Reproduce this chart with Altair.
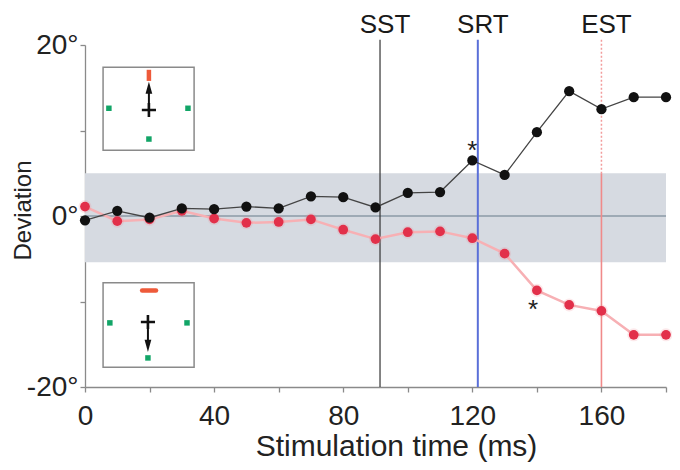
import altair as alt
import pandas as pd

# ---------------- data ----------------
times = [0, 10, 20, 30, 40, 50, 60, 70, 80, 90, 100, 110, 120, 130, 140, 150, 160, 170, 180]
black_dev = [-0.5, 0.6, -0.2, 0.9, 0.8, 1.1, 0.9, 2.3, 2.2, 1.0, 2.7, 2.8, 6.5, 4.8, 9.8, 14.6, 12.5, 13.9, 13.9]
red_dev = [1.1, -0.6, -0.4, 0.6, -0.3, -0.8, -0.7, -0.4, -1.6, -2.7, -1.9, -1.8, -2.6, -4.4, -8.7, -10.4, -11.1, -13.9, -13.9]

band_lo = [-5.4]
band_hi = [5.0]

event_names = ["SST", "SRT", "EST"]
event_times = [91.4, 121.7, 160.0]
event_top = 20.6
event_label_y = 21.45

star_t = [120.0, 138.8]
star_y = [6.7, -11.9]

# inset schematics (in chart data units)
box_x0 = [5.6, 5.6]
box_x1 = [33.8, 33.8]
box_y0 = [7.7, -17.7]
box_y1 = [17.4, -7.8]
target_t = [7.4, 31.9, 19.8, 7.7, 31.6, 19.5]
target_y = [12.6, 12.6, 9.0, -12.5, -12.5, -16.6]
cross_t = [19.8, 19.5]
cross_y = [12.4, -12.4]
shaft_t = [19.8, 19.5]
shaft_y0 = [12.4, -12.4]
shaft_y1 = [14.5, -14.5]
head_t = [19.8, 19.5]
head_y = [15.0, -15.2]
vbar_t = [19.8]
vbar_y0 = [15.8]
vbar_y1 = [17.1]
hbar_t0 = [17.7]
hbar_t1 = [22.0]
hbar_y = [-8.7]

FONT = "Liberation Sans"
xs = alt.Scale(domain=[0, 180], nice=False, zero=False)
ys = alt.Scale(domain=[-20, 20], nice=False, zero=False)


def X(f, **kw):
    return alt.X(f, type="quantitative", scale=xs, **kw)


def Y(f, **kw):
    return alt.Y(f, type="quantitative", scale=ys, **kw)


series = pd.DataFrame({"t": times, "black": black_dev, "red": red_dev})

# gray band (carries the axes)
band = alt.Chart(pd.DataFrame({"t0": [0], "t1": [180], "lo": band_lo, "hi": band_hi})).mark_rect(
    color="#d6dae1"
).encode(
    x=alt.X("t0:Q", scale=xs, axis=alt.Axis(
        values=list(range(0, 181, 20)),
        labelExpr="datum.value % 40 === 0 ? datum.label : ''",
        title="Stimulation time (ms)",
        titleX=311, titleY=68, titleAlign="center", titleBaseline="alphabetic",
        titleFontSize=30, titleFontWeight="normal",
        labelPadding=10, labelFlush=False,
    )),
    x2="t1:Q",
    y=alt.Y("lo:Q", scale=ys, axis=alt.Axis(
        values=[-20, -10, 0, 10, 20],
        labelExpr="datum.value % 20 === 0 ? datum.value + '°' : ''",
        title="Deviation",
        titleX=-62, titleY=165, titleAngle=270, titleAlign="center", titleBaseline="middle",
        titleFontSize=24, titleFontWeight="normal",
        labelPadding=2,
    )),
    y2="hi:Q",
)

zero = alt.Chart(pd.DataFrame({"t0": [0], "t1": [180], "y": [0]})).mark_rule(
    color="#8b9aa6", strokeWidth=1.5
).encode(x=X("t0"), x2="t1:Q", y=Y("y"))

# inset boxes
boxes = alt.Chart(pd.DataFrame({"x0": box_x0, "x1": box_x1, "y0": box_y0, "y1": box_y1})).mark_rect(
    fill="white", stroke="#8a8a8a", strokeWidth=1.5
).encode(x=X("x0"), x2="x1:Q", y=Y("y0"), y2="y1:Q")

targets = alt.Chart(pd.DataFrame({"t": target_t, "y": target_y})).mark_point(
    shape="square", filled=True, color="#12a567", size=30, opacity=1
).encode(x=X("t"), y=Y("y"))

crosses = alt.Chart(pd.DataFrame({"t": cross_t, "y": cross_y})).mark_point(
    shape="M-1,0L1,0M0,-1L0,1", filled=False, stroke="#111", strokeWidth=2.6, size=200, opacity=1
).encode(x=X("t"), y=Y("y"))

shafts = alt.Chart(pd.DataFrame({"t": shaft_t, "y0": shaft_y0, "y1": shaft_y1})).mark_rule(
    color="#111", strokeWidth=2
).encode(x=X("t"), y=Y("y0"), y2="y1:Q")

heads = alt.Chart(pd.DataFrame({"t": head_t, "y": head_y, "dir": ["up", "down"]})).mark_point(
    filled=True, color="#111", size=150, opacity=1
).encode(
    x=X("t"), y=Y("y"),
    shape=alt.Shape("dir:N", scale=alt.Scale(domain=["up", "down"],
                                             range=["M0,-1L0.55,1L-0.55,1Z", "M0,1L0.55,-1L-0.55,-1Z"]),
                    legend=None),
)

vbar = alt.Chart(pd.DataFrame({"t": vbar_t, "y0": vbar_y0, "y1": vbar_y1})).mark_rule(
    color="#ee5a3a", strokeWidth=4.5
).encode(x=X("t"), y=Y("y0"), y2="y1:Q")

hbar = alt.Chart(pd.DataFrame({"t0": hbar_t0, "t1": hbar_t1, "y": hbar_y})).mark_rule(
    color="#ee5a3a", strokeWidth=4.5, strokeCap="round"
).encode(x=X("t0"), x2="t1:Q", y=Y("y"))

# event lines
ev = pd.DataFrame({"name": event_names, "t": event_times,
                   "top": [event_top] * 3, "bot": [-20] * 3, "ly": [event_label_y] * 3})
sst = alt.Chart(ev[ev.name == "SST"]).mark_rule(color="#333", strokeWidth=1.2).encode(
    x=X("t"), y=Y("top"), y2="bot:Q")
srt = alt.Chart(ev[ev.name == "SRT"]).mark_rule(color="#5a6fd8", strokeWidth=2).encode(
    x=X("t"), y=Y("top"), y2="bot:Q")
est_up = alt.Chart(ev[ev.name == "EST"].assign(mid=band_hi[0])).mark_rule(
    color="#f29c9c", strokeWidth=1.5, strokeDash=[2, 2]).encode(x=X("t"), y=Y("top"), y2="mid:Q")
est_lo = alt.Chart(ev[ev.name == "EST"].assign(mid=band_hi[0])).mark_rule(
    color="#f08a8a", strokeWidth=1.6).encode(x=X("t"), y=Y("mid"), y2="bot:Q")
ev_labels = alt.Chart(ev).mark_text(
    font=FONT, fontSize=26, color="#1a1a1a", align="center", baseline="alphabetic", dx=5
).encode(x=X("t"), y=Y("ly"), text="name:N")

# red series
red_line = alt.Chart(series).mark_line(color="#f7b0b4", strokeWidth=2.5).encode(x=X("t"), y=Y("red"))
red_glow = alt.Chart(series).mark_circle(color="#f08088", size=170, opacity=0.18).encode(x=X("t"), y=Y("red"))
red_pts = alt.Chart(series).mark_circle(color="#e2304a", size=95, opacity=1).encode(x=X("t"), y=Y("red"))

# black series
blk_line = alt.Chart(series).mark_line(color="#444", strokeWidth=1.3).encode(x=X("t"), y=Y("black"))
blk_pts = alt.Chart(series).mark_circle(color="#111", size=105, opacity=1).encode(x=X("t"), y=Y("black"))

stars = alt.Chart(pd.DataFrame({"t": star_t, "y": star_y})).mark_text(
    text="*", font=FONT, fontSize=26, color="#222", align="center", baseline="alphabetic"
).encode(x=X("t"), y=Y("y"))

chart = alt.layer(
    band, zero, boxes, targets, vbar, hbar, shafts, heads, crosses,
    sst, srt, est_up, est_lo, ev_labels,
    red_line, red_glow, red_pts, blk_line, blk_pts, stars,
).properties(
    width=581, height=342,
    autosize=alt.AutoSizeParams(type="none"),
    padding={"left": 77, "top": 37, "right": 6, "bottom": 75},
).configure_view(stroke=None).configure_axis(
    domainColor="#8a8a8a", domainWidth=1.3, tickColor="#8a8a8a", tickWidth=1.3, tickSize=5,
    grid=False, labelFont=FONT, titleFont=FONT, labelFontSize=28, labelColor="#222",
    titleColor="#222",
)

chart.save("out.html", embed_options={"renderer": "svg", "actions": False})
